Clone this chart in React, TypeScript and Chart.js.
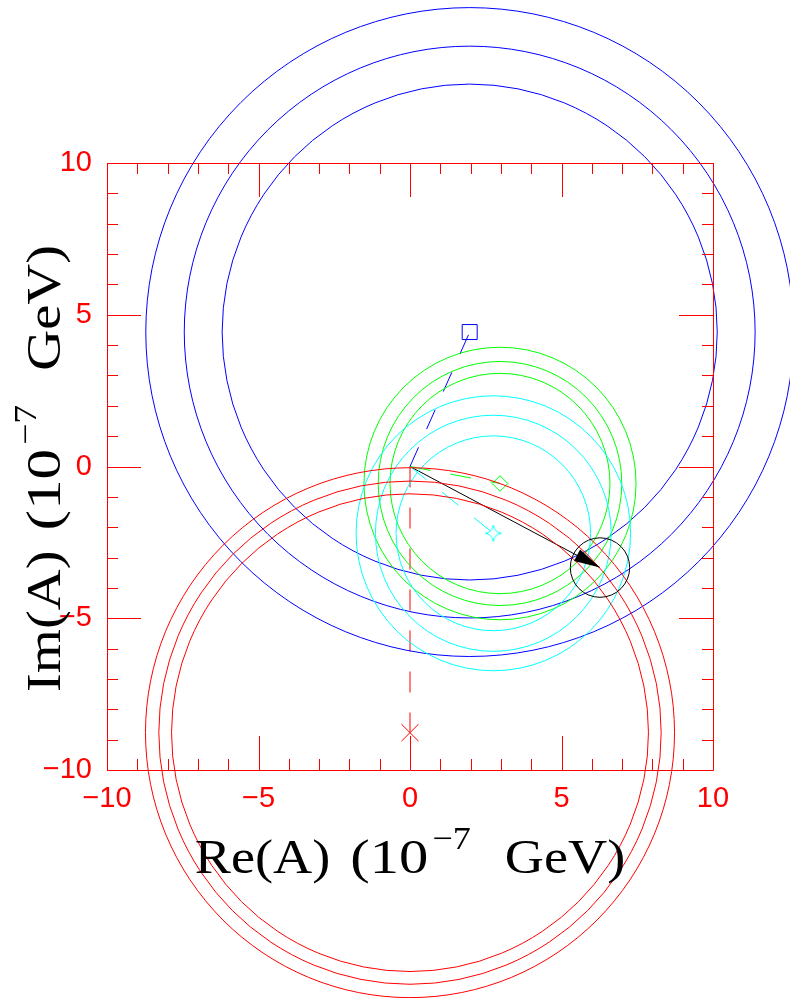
import React, { useEffect, useRef } from 'react';
import { Chart, registerables } from 'chart.js';

Chart.register(...registerables);

// ---- data ----
const AXIS_MIN = -10;
const AXIS_MAX = 10;
const majorTicks = [-10, -5, 0, 5, 10];
const minorTicks = [-9, -8, -7, -6, -4, -3, -2, -1, 1, 2, 3, 4, 6, 7, 8, 9];

// circle groups: blue, green, cyan, red
const groupColors = ['#0000ff', '#00ff00', '#00ffff', '#ff0000'];
const groupCenterX = [1.97, 2.97, 2.75, 0.0];
const groupCenterY = [4.43, -0.56, -2.2, -8.77];
const blueRadii = [8.17, 9.42, 10.69];
const greenRadii = [3.63, 4.02, 4.49];
const cyanRadii = [3.21, 3.89, 4.53];
const redRadii = [7.87, 8.29, 8.73];
const groupRadii = [blueRadii, greenRadii, cyanRadii, redRadii];

// resulting amplitude (black arrow + circle)
const resultX = [6.27];
const resultY = [-3.33];
const resultRadius = [0.98];

const xTitleParts = ['Re(A)', '(10', '\u22127', 'GeV)'];
const yTitleParts = ['Im(A)', '(10', '\u22127', 'GeV)'];

function makeStar(color: string): HTMLCanvasElement {
  const c = document.createElement('canvas');
  c.width = 20;
  c.height = 20;
  const g = c.getContext('2d')!;
  g.strokeStyle = color;
  g.lineWidth = 1;
  const m = 10, a = 8, k = 1.2;
  g.beginPath();
  g.moveTo(m, m - a);
  g.quadraticCurveTo(m + k, m - k, m + a, m);
  g.quadraticCurveTo(m + k, m + k, m, m + a);
  g.quadraticCurveTo(m - k, m + k, m - a, m);
  g.quadraticCurveTo(m - k, m - k, m, m - a);
  g.stroke();
  return c;
}

const circlesPlugin = {
  id: 'circles',
  afterDatasetsDraw(chart: any) {
    const { ctx, scales } = chart;
    const xs = scales.x, ys = scales.y;
    ctx.save();
    ctx.lineWidth = 1;
    const draw = (cx: number, cy: number, r: number, color: string) => {
      const px = xs.getPixelForValue(cx);
      const py = ys.getPixelForValue(cy);
      const rx = Math.abs(xs.getPixelForValue(cx + r) - px);
      const ry = Math.abs(ys.getPixelForValue(cy + r) - py);
      ctx.strokeStyle = color;
      ctx.beginPath();
      ctx.ellipse(px, py, rx, ry, 0, 0, Math.PI * 2);
      ctx.stroke();
    };
    groupRadii.forEach((radii, gi) => {
      radii.forEach((r) => draw(groupCenterX[gi], groupCenterY[gi], r, groupColors[gi]));
    });
    draw(resultX[0], resultY[0], resultRadius[0], '#000000');

    // arrow head
    const x0 = xs.getPixelForValue(0), y0 = ys.getPixelForValue(0);
    const x1 = xs.getPixelForValue(resultX[0]), y1 = ys.getPixelForValue(resultY[0]);
    const len = Math.hypot(x1 - x0, y1 - y0);
    const ux = (x1 - x0) / len, uy = (y1 - y0) / len;
    const hl = 26, hw = 6.5;
    const bx = x1 - ux * hl, by = y1 - uy * hl;
    ctx.fillStyle = '#000000';
    ctx.beginPath();
    ctx.moveTo(x1, y1);
    ctx.lineTo(bx - uy * hw, by + ux * hw);
    ctx.lineTo(bx + uy * hw, by - ux * hw);
    ctx.closePath();
    ctx.fill();
    ctx.restore();
  },
};

const framePlugin = {
  id: 'frame',
  afterDraw(chart: any) {
    const { ctx, chartArea, scales } = chart;
    const xs = scales.x, ys = scales.y;
    const { left, right, top, bottom } = chartArea;
    ctx.save();
    ctx.strokeStyle = '#ff0000';
    ctx.lineWidth = 1;
    ctx.beginPath();
    ctx.rect(Math.round(left) + 0.5, Math.round(top) + 0.5, Math.round(right - left), Math.round(bottom - top));
    ctx.stroke();
    const tick = (v: number, len: number) => {
      const px = Math.round(xs.getPixelForValue(v)) + 0.5;
      const py = Math.round(ys.getPixelForValue(v)) + 0.5;
      ctx.beginPath();
      ctx.moveTo(px, bottom); ctx.lineTo(px, bottom - len);
      ctx.moveTo(px, top); ctx.lineTo(px, top + len);
      ctx.moveTo(left, py); ctx.lineTo(left + len, py);
      ctx.moveTo(right, py); ctx.lineTo(right - len, py);
      ctx.stroke();
    };
    majorTicks.forEach((v) => tick(v, 34));
    minorTicks.forEach((v) => tick(v, 11));

    // axis titles
    ctx.fillStyle = '#000000';
    const drawTitle = (parts: string[], cx: number, baseline: number, sx: number) => {
      const big = '48px "Liberation Serif"';
      const small = '32px "Liberation Serif"';
      const gap1 = 20, gap2 = 34;
      ctx.font = big;
      const w0 = ctx.measureText(parts[0]).width * sx;
      const w1 = ctx.measureText(parts[1]).width * sx * 1.08;
      const w3 = ctx.measureText(parts[3]).width * sx;
      ctx.font = small;
      const w2 = ctx.measureText(parts[2]).width * sx;
      const total = w0 + gap1 + w1 + 4 + w2 + gap2 + w3;
      let x = cx - total / 2;
      ctx.textBaseline = 'alphabetic';
      ctx.textAlign = 'left';
      const put = (t: string, font: string, px: number, py: number, s: number) => {
        ctx.save();
        ctx.font = font;
        ctx.translate(px, py);
        ctx.scale(s, 1);
        ctx.fillText(t, 0, 0);
        ctx.restore();
      };
      put(parts[0], big, x, baseline, sx); x += w0 + gap1;
      put(parts[1], big, x, baseline, sx * 1.08); x += w1 + 4;
      put(parts[2], small, x, baseline - 24, sx); x += w2 + gap2;
      put(parts[3], big, x, baseline, sx);
    };
    const midX = (left + right) / 2;
    const midY = (top + bottom) / 2;
    drawTitle(xTitleParts, midX, 873, 1.13);
    ctx.save();
    ctx.translate(60, midY + 2);
    ctx.rotate(-Math.PI / 2);
    drawTitle(yTitleParts, 0, 0, 1.18);
    ctx.restore();
    ctx.restore();
  },
};

export default function App() {
  const ref = useRef<HTMLCanvasElement | null>(null);
  useEffect(() => {
    if (!ref.current) return;
    const star = makeStar('#00ffff');
    const origin = { x: 0, y: 0 };
    const dashed = (gi: number) => ({
      type: 'line' as const,
      data: [origin, { x: groupCenterX[gi], y: groupCenterY[gi] }],
      borderColor: groupColors[gi],
      borderWidth: 1,
      borderDash: [21, 20],
      pointRadius: 0,
      showLine: true,
      fill: false,
    });
    const marker = (gi: number, style: any, radius: number) => ({
      type: 'scatter' as const,
      data: [{ x: groupCenterX[gi], y: groupCenterY[gi] }],
      pointStyle: style,
      pointRadius: radius,
      borderColor: groupColors[gi],
      backgroundColor: 'rgba(0,0,0,0)',
      borderWidth: 1,
    });
    const tickFont = { family: '"Liberation Sans", sans-serif', size: 29 };
    const chart = new Chart(ref.current, {
      type: 'scatter',
      data: {
        datasets: [
          dashed(0), dashed(1), dashed(2), dashed(3),
          {
            type: 'line',
            data: [origin, { x: resultX[0], y: resultY[0] }],
            borderColor: '#000000',
            borderWidth: 1,
            pointRadius: 0,
            showLine: true,
            fill: false,
          } as any,
          marker(0, 'rect', 10.6),
          marker(1, 'rectRot', 7.8),
          marker(2, star, 10),
          marker(3, 'crossRot', 12),
        ] as any,
      },
      options: {
        animation: false,
        responsive: false,
        events: [],
        layout: { padding: { top: 163, right: 77, left: 0, bottom: 0 } },
        plugins: { legend: { display: false }, tooltip: { enabled: false } },
        scales: {
          x: {
            type: 'linear',
            min: AXIS_MIN,
            max: AXIS_MAX,
            grid: { display: false, drawTicks: false },
            border: { display: false },
            ticks: {
              stepSize: 5,
              color: '#ff0000',
              font: tickFont,
              padding: 12,
              maxRotation: 0,
              autoSkip: false,
              callback: (v: any) => String(v).replace('-', '\u2212'),
            },
            afterFit: (s: any) => { s.height = 228; },
          },
          y: {
            type: 'linear',
            min: AXIS_MIN,
            max: AXIS_MAX,
            grid: { display: false, drawTicks: false },
            border: { display: false },
            ticks: {
              stepSize: 5,
              color: '#ff0000',
              font: tickFont,
              padding: 15,
              autoSkip: false,
              callback: (v: any) => String(v).replace('-', '\u2212'),
            },
            afterFit: (s: any) => { s.width = 107; },
          },
        },
      } as any,
      plugins: [circlesPlugin, framePlugin],
    });
    return () => chart.destroy();
  }, []);
  return (
    <div style={{ position: 'absolute', left: 0, top: 0, width: 790, height: 998, overflow: 'hidden', background: '#fff' }}>
      <canvas ref={ref} width={790} height={998} style={{ display: 'block' }} />
    </div>
  );
}
